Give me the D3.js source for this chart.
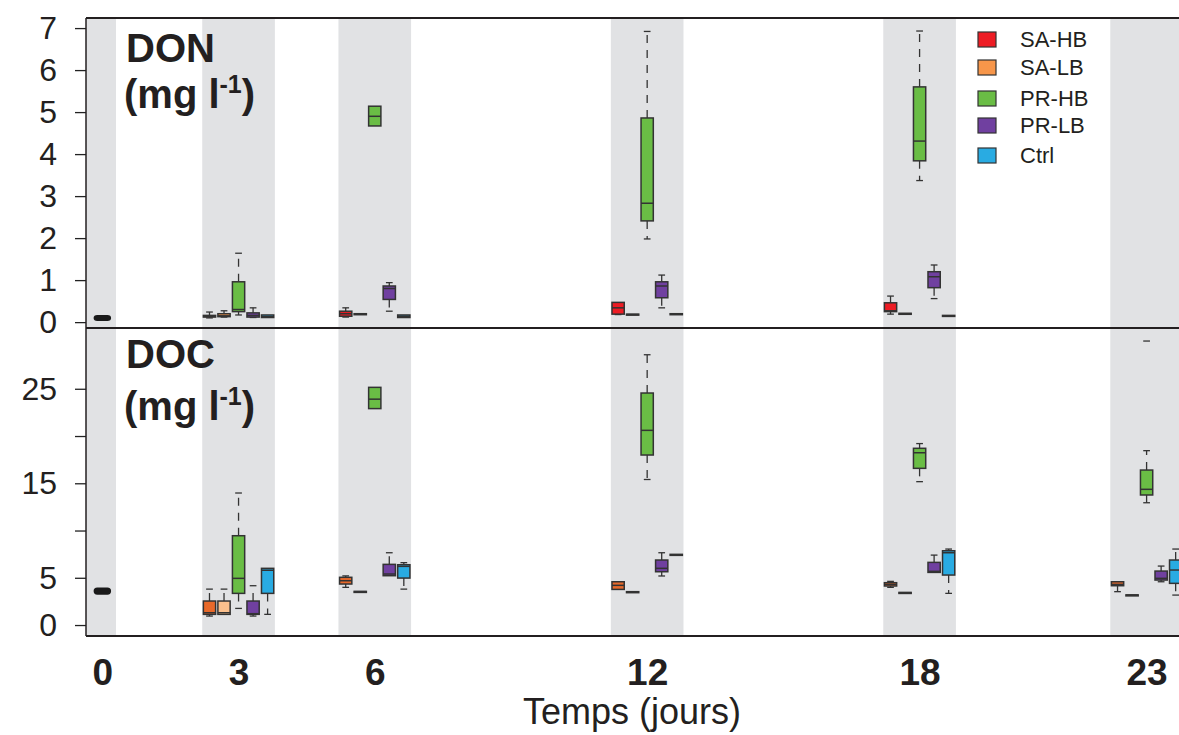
<!DOCTYPE html>
<html>
<head>
<meta charset="utf-8">
<script src="https://cdn.jsdelivr.net/npm/d3@7"></script>
<style>
  body { margin: 0; background: #fff; }
  svg { display: block; font-family: "Liberation Sans", Arial, sans-serif; }
</style>
</head>
<body>
<div class="chart"></div>
<script>
// jours d'échantillonnage et traitements
const days = [3, 6, 12, 18, 23];
const groups = ["SA-HB", "SA-LB", "PR-HB", "PR-LB", "Ctrl"];

// bandes grises autour de chaque jour (en jours)
const bandFrom = [-1, 2.2, 5.2, 11.2, 17.2, 22.2];
const bandTo = [0.3, 3.8, 6.8, 12.8, 18.8, 23.8];

// axe x
const dayTicks = [0, 3, 6, 12, 18, 23];
const dayLabels = ["0", "3", "6", "12", "18", "23"];

// axes y
const donTicks = [0, 1, 2, 3, 4, 5, 6, 7];
const donTickLabels = ["0", "1", "2", "3", "4", "5", "6", "7"];
const docTicks = [0, 5, 10, 15, 20, 25];
const docTickLabels = ["0", "5", "", "15", "", "25"];

// boxplots : [min, q1, médiane, q3, max], une ligne par jour de `days` (null = pas de mesure)
// DON (mg l-1)
const donT0 = [0.07, 0.09, 0.12, 0.15, 0.17];
const donSAHB = [[0.10, 0.12, 0.14, 0.16, 0.24], [0.12, 0.14, 0.20, 0.26, 0.34], [0.18, 0.19, 0.34, 0.47, 0.47], [0.19, 0.25, 0.27, 0.46, 0.62], null];
const donSALB = [[0.12, 0.13, 0.15, 0.20, 0.27], [0.18, 0.18, 0.19, 0.20, 0.20], [0.17, 0.17, 0.18, 0.19, 0.19], [0.19, 0.19, 0.20, 0.21, 0.21], null];
const donPRHB = [[0.17, 0.25, 0.30, 0.96, 1.64], [4.67, 4.67, 4.90, 5.14, 5.14], [1.98, 2.41, 2.83, 4.86, 6.92], [3.37, 3.84, 4.31, 5.60, 6.93], null];
const donPRLB = [[0.11, 0.12, 0.16, 0.22, 0.34], [0.26, 0.54, 0.80, 0.86, 0.94], [0.34, 0.58, 0.86, 0.96, 1.12], [0.56, 0.82, 1.08, 1.20, 1.36], null];
const donCtrl = [[0.11, 0.11, 0.13, 0.17, 0.17], [0.11, 0.11, 0.14, 0.17, 0.17], [0.18, 0.18, 0.19, 0.20, 0.20], [0.14, 0.14, 0.15, 0.16, 0.16], null];

// DOC (mg l-1)
const docT0 = [3.3, 3.5, 3.7, 3.9, 4.1];
const docSAHB = [[0.95, 1.13, 1.30, 2.54, 3.80], [3.99, 4.34, 4.69, 5.05, 5.20], [3.77, 3.77, 4.20, 4.58, 4.58], [3.99, 4.13, 4.30, 4.48, 4.62], [3.53, 4.16, 4.30, 4.58, 4.58]];
const docSALB = [[1.13, 1.13, 1.30, 2.54, 3.80], [3.50, 3.50, 3.53, 3.56, 3.56], [3.45, 3.45, 3.49, 3.53, 3.53], [3.40, 3.40, 3.42, 3.45, 3.45], [3.15, 3.15, 3.17, 3.19, 3.19]];
const docPRHB = [[1.76, 3.35, 4.94, 9.45, 13.97], [22.9, 22.9, 23.9, 25.15, 25.15], [15.4, 17.99, 20.6, 24.55, 28.6], [15.17, 16.58, 18.23, 18.7, 19.2], [12.94, 13.76, 14.36, 16.4, 18.45]];
const docPRLB = [[0.95, 1.13, 1.20, 2.54, 4.16], [5.22, 5.22, 5.40, 6.42, 7.65], [5.19, 5.64, 6.00, 6.88, 7.65], [5.57, 5.57, 5.68, 6.63, 7.40], [4.58, 4.76, 4.94, 5.71, 6.24]];
const docCtrl = [[1.13, 3.35, 5.80, 6.00, 6.00], [3.80, 4.97, 6.21, 6.38, 6.60], [7.40, 7.40, 7.44, 7.48, 7.48], [3.35, 5.29, 7.65, 7.86, 8.04], [3.17, 4.41, 5.82, 6.88, 8.04]];
const docOutliers = [{ group: "PR-HB", day: 23, value: 30.05 }];

// couleurs
const donColors = ["#ED1C24", "#F7964A", "#6ABD45", "#7040A0", "#29ABE2"];
const docColors = ["#E8692A", "#FBC08D", "#6ABD45", "#7040A0", "#29ABE2"];

const width = 1179, height = 735;
const plotLeft = 86, plotRight = 1192;

const svg = d3.select(".chart").append("svg")
    .attr("width", width).attr("height", height);

// échelle x commune (jours)
const xScale = d3.scaleLinear().domain([-0.36, 24]).range([plotLeft, plotRight]);
// position de chaque traitement autour du jour
const groupScale = d3.scaleBand().domain(groups).range([-0.8, 0.8]);
const boxW = xScale(0.27) - xScale(0);
const capW = boxW * 0.55;

const panels = [
    {
        name: "DON", top: 18, bottom: 328,
        y: d3.scaleLinear().domain([-0.14, 7.24]).range([328, 18]),
        ticks: donTicks, tickLabels: donTickLabels,
        series: [donSAHB, donSALB, donPRHB, donPRLB, donCtrl],
        colors: donColors, t0: donT0, outliers: [],
        titleY: [62, 108]
    },
    {
        name: "DOC", top: 328, bottom: 636,
        y: d3.scaleLinear().domain([-1.16, 31.43]).range([636, 328]),
        ticks: docTicks, tickLabels: docTickLabels,
        series: [docSAHB, docSALB, docPRHB, docPRLB, docCtrl],
        colors: docColors, t0: docT0, outliers: docOutliers,
        titleY: [368, 420]
    }
];

// un boxplot (style R, moustaches en pointillé)
function drawBox(g, cx, s, y, fill, w) {
    const [lo, q1, med, q3, hi] = s;
    const box = g.append("g");
    if (hi > q3) {
        box.append("line").attr("x1", cx).attr("x2", cx).attr("y1", y(q3)).attr("y2", y(hi))
            .attr("stroke", "#333").attr("stroke-width", 1.3).attr("stroke-dasharray", "8,7");
        box.append("line").attr("x1", cx - capW / 2).attr("x2", cx + capW / 2).attr("y1", y(hi)).attr("y2", y(hi))
            .attr("stroke", "#333").attr("stroke-width", 1.3);
    }
    if (lo < q1) {
        box.append("line").attr("x1", cx).attr("x2", cx).attr("y1", y(q1)).attr("y2", y(lo))
            .attr("stroke", "#333").attr("stroke-width", 1.3).attr("stroke-dasharray", "8,7");
        box.append("line").attr("x1", cx - capW / 2).attr("x2", cx + capW / 2).attr("y1", y(lo)).attr("y2", y(lo))
            .attr("stroke", "#333").attr("stroke-width", 1.3);
    }
    box.append("rect")
        .attr("x", cx - w / 2).attr("width", w)
        .attr("y", y(q3)).attr("height", Math.max(y(q1) - y(q3), 1))
        .attr("fill", fill).attr("stroke", "#333").attr("stroke-width", 1.5);
    box.append("line").attr("x1", cx - w / 2).attr("x2", cx + w / 2).attr("y1", y(med)).attr("y2", y(med))
        .attr("stroke", "#333").attr("stroke-width", 1.5);
}

panels.forEach(p => {
    const g = svg.append("g").attr("class", "panel " + p.name);

    // bandes grises
    g.selectAll(".band").data(bandFrom).enter().append("rect")
        .attr("class", "band")
        .attr("x", (d, i) => Math.max(xScale(d), plotLeft))
        .attr("width", (d, i) => xScale(bandTo[i]) - Math.max(xScale(d), plotLeft))
        .attr("y", p.top).attr("height", p.bottom - p.top)
        .attr("fill", "#E1E2E4");

    // jour 0 : un seul échantillon initial
    const t0 = p.t0;
    g.append("rect")
        .attr("x", xScale(0) - 8).attr("width", 16)
        .attr("y", p.y(t0[3])).attr("height", p.y(t0[1]) - p.y(t0[3]) + 2)
        .attr("rx", 3).attr("fill", "#1a1a1a").attr("stroke", "#1a1a1a").attr("stroke-width", 1.5);

    // boxplots par traitement
    p.series.forEach((rows, gi) => {
        rows.forEach((s, di) => {
            if (!s) return;
            const cx = xScale(days[di] + groupScale(groups[gi]) + groupScale.bandwidth() / 2);
            drawBox(g, cx, s, p.y, p.colors[gi], boxW);
        });
    });

    // valeurs extrêmes (tirets)
    p.outliers.forEach(o => {
        const cx = xScale(o.day + groupScale(o.group) + groupScale.bandwidth() / 2);
        g.append("line").attr("x1", cx - capW / 2).attr("x2", cx + capW / 2)
            .attr("y1", p.y(o.value)).attr("y2", p.y(o.value))
            .attr("stroke", "#333").attr("stroke-width", 1.3);
    });

    // axe y
    const yAxis = d3.axisLeft(p.y).tickValues(p.ticks)
        .tickFormat((d, i) => p.tickLabels[i]).tickSize(11).tickPadding(18);
    const yg = g.append("g").attr("transform", `translate(${plotLeft},0)`).call(yAxis);
    yg.select(".domain").remove();
    yg.selectAll(".tick line").attr("stroke", "#222").attr("stroke-width", 1.3);
    yg.selectAll("text").attr("font-size", "32px").attr("fill", "#231F20")
        .attr("font-family", "'Liberation Sans', Arial, sans-serif");

    // titre du panneau
    const title = g.append("g").attr("fill", "#231F20").attr("font-weight", "bold");
    title.append("text").attr("x", 126).attr("y", p.titleY[0]).attr("font-size", "40px").text(p.name);
    const unit = title.append("text").attr("x", 124).attr("y", p.titleY[1]).attr("font-size", "40px");
    unit.append("tspan").text("(mg l");
    unit.append("tspan").attr("font-size", "25px").attr("dy", -15).text("-1");
    unit.append("tspan").attr("dy", 15).text(")");

    // cadre
    g.append("line").attr("x1", plotLeft).attr("x2", width).attr("y1", p.top).attr("y2", p.top)
        .attr("stroke", "#231F20").attr("stroke-width", 2);
    g.append("line").attr("x1", plotLeft).attr("x2", plotLeft).attr("y1", p.top).attr("y2", p.bottom)
        .attr("stroke", "#231F20").attr("stroke-width", 1.5);
});

// cadre bas
svg.append("line").attr("x1", plotLeft).attr("x2", width).attr("y1", 636).attr("y2", 636)
    .attr("stroke", "#231F20").attr("stroke-width", 2);

// axe x
const xAxis = d3.axisBottom(xScale).tickValues(dayTicks)
    .tickFormat((d, i) => dayLabels[i]).tickSize(0).tickPadding(23);
const xg = svg.append("g").attr("transform", "translate(0,636)").call(xAxis);
xg.select(".domain").remove();
xg.selectAll("text").attr("font-size", "37px").attr("font-weight", "bold").attr("fill", "#231F20")
    .attr("font-family", "'Liberation Sans', Arial, sans-serif");

svg.append("text")
    .attr("x", 632).attr("y", 724).attr("text-anchor", "middle")
    .attr("font-size", "36px").attr("fill", "#231F20")
    .text("Temps (jours)");

// légende
const legend = svg.append("g").attr("class", "legend");
const legendRow = d3.scalePoint().domain(groups).range([47, 163]);
const legendY = [47, 75, 106, 133, 163];
groups.forEach((gname, i) => {
    const row = legend.append("g").attr("transform", `translate(978,${legendY[i]})`);
    row.append("rect").attr("x", 0).attr("y", -15).attr("width", 18).attr("height", 15)
        .attr("fill", donColors[i]).attr("stroke", "#333").attr("stroke-width", 1.2);
    row.append("text").attr("x", 42).attr("y", 0).attr("font-size", "22px").attr("fill", "#231F20").text(gname);
});
</script>
</body>
</html>
